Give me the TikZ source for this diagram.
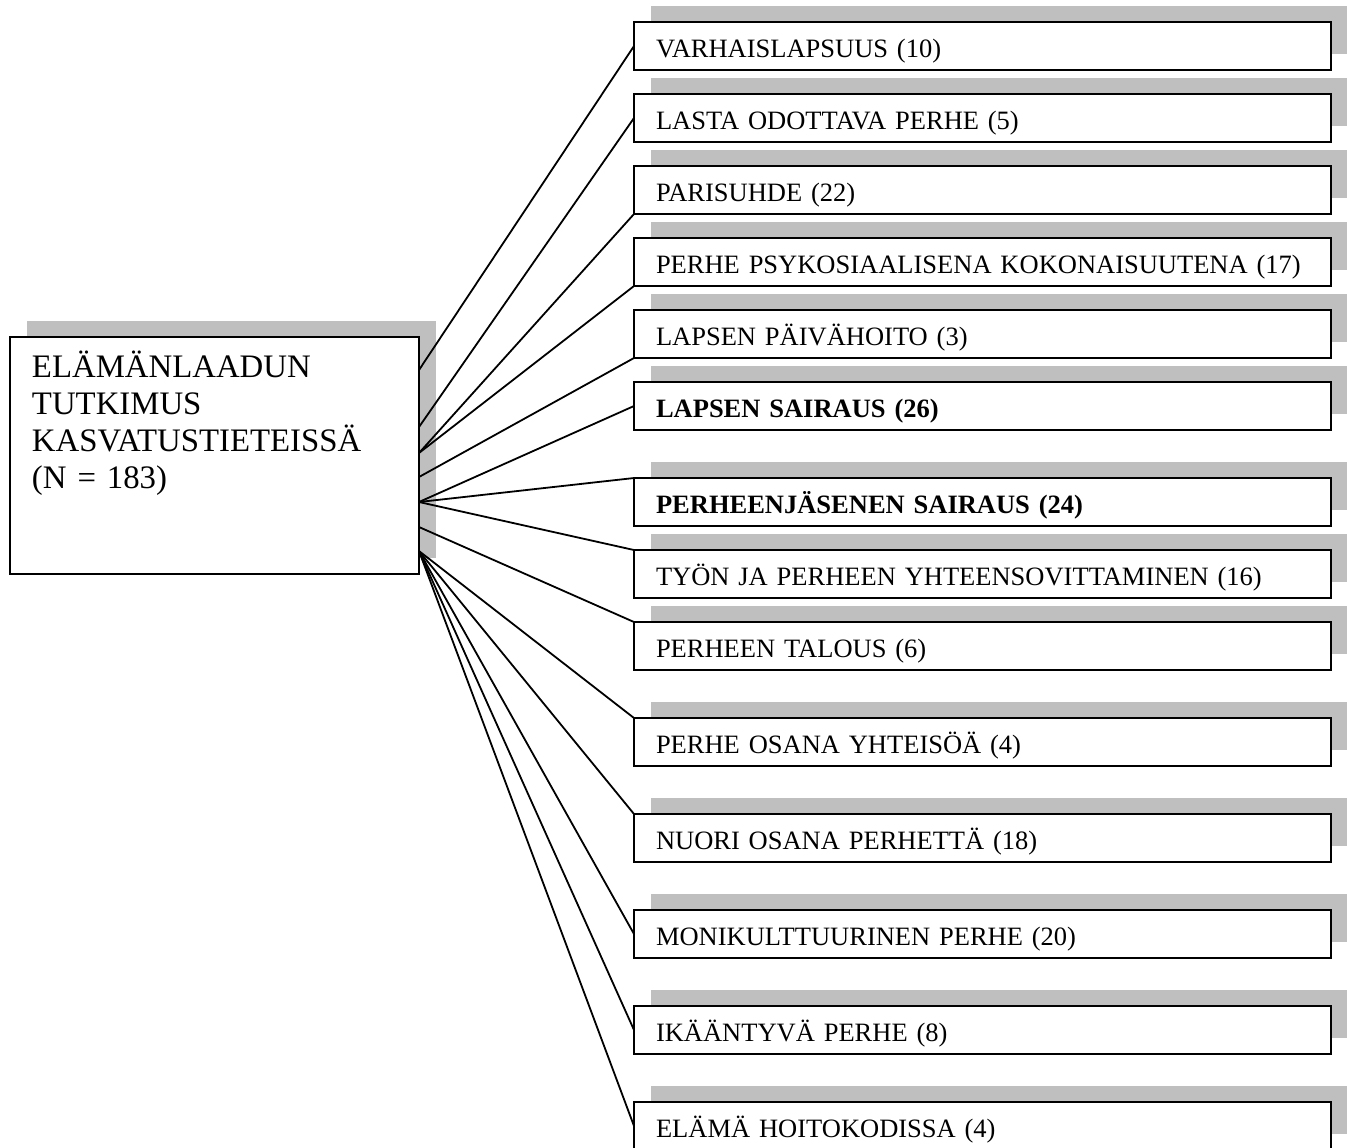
\documentclass[tikz,border=0pt]{standalone}
\usepackage{fontspec}
\setmainfont{Liberation Serif}[WordSpace=0.8]
\usetikzlibrary{positioning,shadows}
\definecolor{shadowgray}{RGB}{191,191,191}

\begin{document}
\begin{tikzpicture}[x=0.5pt,y=-0.5pt,
    box/.style={draw,fill=white,line width=1.3pt,outer sep=0pt,
      drop shadow={shadow xshift=8.5pt,shadow yshift=8pt,fill=shadowgray,opacity=1}},
    mainbox/.style={box,minimum width=204.5pt,minimum height=118.5pt,inner xsep=11pt,inner ysep=0pt,
      text width=182.5pt,align=left,text height=10pt,text depth=88.5pt,font=\fontsize{16.4}{18.5}\selectfont},
    catbox/.style={box,minimum width=348.5pt,minimum height=24pt,inner xsep=11pt,inner ysep=0pt,
      text width=326.5pt,align=left,text height=11pt,text depth=0pt,font=\fontsize{13.25}{16}\selectfont},
    link/.style={line width=0.9pt}]
  \useasboundingbox (0,0) rectangle (1347,1147);

  \node [mainbox,anchor=north west] (0) at (10,337) {ELÄMÄNLAADUN\\TUTKIMUS\\KASVATUSTIETEISSÄ\\(N = 183)};

  \node [catbox,anchor=north west] (1) at (634,22) {VARHAISLAPSUUS (10)};
  \node [catbox,below=12pt of 1] (2) {LASTA ODOTTAVA PERHE (5)};
  \node [catbox,below=12pt of 2] (3) {PARISUHDE (22)};
  \node [catbox,below=12pt of 3] (4) {PERHE PSYKOSIAALISENA KOKONAISUUTENA (17)};
  \node [catbox,below=12pt of 4] (5) {LAPSEN PÄIVÄHOITO (3)};
  \node [catbox,below=12pt of 5] (6) {\textbf{LAPSEN SAIRAUS (26)}};
  \node [catbox,below=24pt of 6] (7) {\textbf{PERHEENJÄSENEN SAIRAUS (24)}};
  \node [catbox,below=12pt of 7] (8) {TYÖN JA PERHEEN YHTEENSOVITTAMINEN (16)};
  \node [catbox,below=12pt of 8] (9) {PERHEEN TALOUS (6)};
  \node [catbox,below=24pt of 9] (10) {PERHE OSANA YHTEISÖÄ (4)};
  \node [catbox,below=24pt of 10] (11) {NUORI OSANA PERHETTÄ (18)};
  \node [catbox,below=24pt of 11] (12) {MONIKULTTUURINEN PERHE (20)};
  \node [catbox,below=24pt of 12] (13) {IKÄÄNTYVÄ PERHE (8)};
  \node [catbox,below=24pt of 13] (14) {ELÄMÄ HOITOKODISSA (4)};

  % where the lines leave the main box
  \coordinate (s1) at ([yshift=-16.5pt]0.north east);
  \coordinate (s2) at ([yshift=-45pt]0.north east);
  \coordinate (s3) at ([yshift=-58pt]0.north east);
  \coordinate (s4) at ([yshift=-70pt]0.north east);
  \coordinate (s5) at ([yshift=-82.5pt]0.north east);
  \coordinate (s6) at ([yshift=-95pt]0.north east);
  \coordinate (s7) at ([yshift=-107pt]0.north east);

  \draw[link] (s1) -- (1.west);
  \draw[link] (s2) -- (2.west);
  \draw[link] (s3) -- (3.south west);
  \draw[link] (s3) -- (4.south west);
  \draw[link] (s4) -- (5.south west);
  \draw[link] (s5) -- (6.west);
  \draw[link] (s5) -- (7.north west);
  \draw[link] (s5) -- (8.north west);
  \draw[link] (s6) -- (9.north west);
  \draw[link] (s7) -- (10.north west);
  \draw[link] (s7) -- (11.north west);
  \draw[link] (s7) -- (12.west);
  \draw[link] (s7) -- (13.west);
  \draw[link] (s7) -- (14.west);
\end{tikzpicture}
\end{document}
